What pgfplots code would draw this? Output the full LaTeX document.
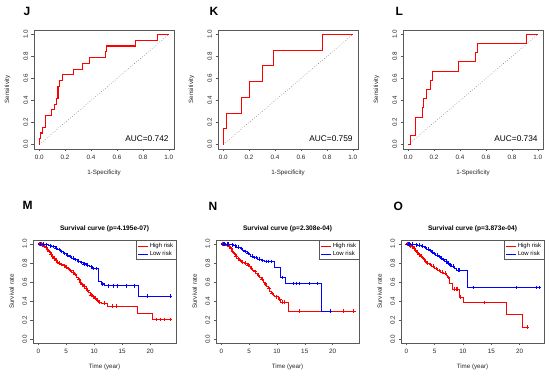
\documentclass[border=0pt]{standalone}
\usepackage{pgfplots}
\pgfplotsset{compat=1.18}
\usepackage{fontspec}
\setmainfont{Liberation Sans}

\pgfplotsset{
  rbox/.style={
    scale only axis, anchor=south west,
    axis line style={black!65, line width=0.5pt},
    tick align=outside, tick pos=left,
    major tick length=2.5pt,
    every tick/.style={black!65, line width=0.5pt},
    tick label style={font=\fontsize{6.3}{6.3}\selectfont, text=black!85},
    yticklabel style={rotate=90, anchor=south},
    label style={font=\fontsize{6.2}{6.2}\selectfont, text=black!85},
  },
  roc/.style={rbox, width=140pt, height=119pt,
    xmin=-0.04, xmax=1.04, ymin=-0.04, ymax=1.04,
    xtick={0,0.2,0.4,0.6,0.8,1}, ytick={0,0.2,0.4,0.6,0.8,1},
    xticklabels={0.0,0.2,0.4,0.6,0.8,1.0},
    yticklabels={0.0,0.2,0.4,0.6,0.8,1.0},
    xlabel={1-Specificity}, ylabel={Sensitivity},
    xlabel style={at={(axis description cs:0.5,-0.2)}, anchor=center},
    ylabel style={at={(axis description cs:-0.19,0.5)}, anchor=center},
  },
  km/.style={rbox, width=143pt, height=103pt,
    ymin=-0.04, ymax=1.04,
    xtick={0,5,10,15,20}, xticklabels={0,5,10,15,20},
    ytick={0,0.2,0.4,0.6,0.8,1},
    yticklabels={0.0,0.2,0.4,0.6,0.8,1.0},
    xlabel={Time (year)}, ylabel={Survival rate},
    xlabel style={at={(axis description cs:0.5,-0.235)}, anchor=center},
    ylabel style={at={(axis description cs:-0.15,0.5)}, anchor=center},
    title style={font=\bfseries\fontsize{6.6}{7}\selectfont, at={(0.5,1)}, anchor=south, yshift=-1.5pt},
    legend style={at={(1,1)}, anchor=north east, draw=black!65, line width=0.4pt,
      font=\fontsize{6}{6}\selectfont, inner sep=1.5pt, row sep=0pt,
      nodes={inner sep=1.2pt}},
    legend cell align=left,
    legend image code/.code={\draw[#1, line width=0.6pt] (0pt,0pt) -- (10pt,0pt);},
  },
  rocline/.style={red, line width=1.05pt, const plot},
  diag/.style={black!60, dotted, line width=0.55pt},
  hi/.style={red, line width=0.75pt, const plot},
  lo/.style={blue, line width=0.75pt, const plot},
  cens/.style={only marks, mark=+, mark size=1.8pt, line width=0.55pt, forget plot},
}

\begin{document}
\begin{tikzpicture}
\path[use as bounding box] (0,0) rectangle (550pt,375pt);

\tikzset{letter/.style={font=\bfseries\fontsize{12}{12}\selectfont, anchor=west}}
\node[letter] at (20pt,364pt) {J};
\node[letter] at (206pt,364pt) {K};
\node[letter] at (392pt,364pt) {L};
\node[letter] at (19pt,170pt) {M};
\node[letter] at (205pt,169pt) {N};
\node[letter] at (390pt,169pt) {O};

% ---- ROC J
\begin{axis}[roc, at={(34pt,226pt)}]
\addplot[diag] coordinates {(0,0) (1,1)};
\addplot[rocline] coordinates {
(0,0) (0,0.053) (0.013,0.105) (0.025,0.158) (0.051,0.263) (0.094,0.316)
(0.120,0.368) (0.132,0.421) (0.145,0.526) (0.158,0.579) (0.178,0.632)
(0.262,0.684) (0.331,0.737) (0.389,0.789) (0.511,0.842) (0.522,0.895)
(0.746,0.947) (0.916,1.0) (1,1)};
\node[anchor=east, font=\fontsize{8.3}{9}\selectfont] at (axis cs:1.025,0.055) {AUC=0.742};
\end{axis}

% ---- ROC K
\begin{axis}[roc, at={(218pt,226pt)}]
\addplot[diag] coordinates {(0,0) (1,1)};
\addplot[rocline] coordinates {
(0,0) (0,0.143) (0.025,0.286) (0.140,0.429) (0.204,0.571) (0.305,0.714)
(0.389,0.857) (0.763,1.0) (1,1)};
\node[anchor=east, font=\fontsize{8.3}{9}\selectfont] at (axis cs:1.025,0.055) {AUC=0.759};
\end{axis}

% ---- ROC L
\begin{axis}[roc, at={(403pt,226pt)}]
\addplot[diag] coordinates {(0,0) (1,1)};
\addplot[rocline] coordinates {
(0,0) (0.020,0.083) (0.055,0.25) (0.108,0.333) (0.121,0.417) (0.138,0.5)
(0.171,0.583) (0.188,0.667) (0.389,0.75) (0.520,0.833) (0.533,0.917)
(0.912,1.0) (1,1)};
\node[anchor=east, font=\fontsize{8.3}{9}\selectfont] at (axis cs:1.025,0.055) {AUC=0.734};
\end{axis}

% ---- Survival M
\begin{axis}[km, at={(33pt,32pt)}, xmin=-0.95, xmax=24.65,
  title={Survival curve (p=4.195e-07)}]
\addplot[hi] coordinates {
(0,1) (0.3,0.995) (0.6,0.985) (0.9,0.975) (1.2,0.96) (1.5,0.94) (1.8,0.92)
(2.1,0.895) (2.4,0.87) (2.7,0.85) (3.0,0.83) (3.3,0.81) (3.6,0.80) (4.0,0.785)
(4.4,0.77) (4.8,0.755) (5.2,0.74) (5.6,0.72) (6.0,0.705) (6.4,0.68) (6.8,0.65)
(7.1,0.625) (7.4,0.60) (7.7,0.575) (8.0,0.555) (8.3,0.535) (8.7,0.515) (9.0,0.49)
(9.3,0.465) (9.6,0.445) (10.0,0.43) (10.4,0.41) (10.8,0.39) (11.3,0.38)
(12.3,0.345) (17.7,0.27) (20.5,0.205) (23.7,0.205)};
\addlegendentry{High risk}
\addplot[lo] coordinates {
(0,1) (0.6,0.995) (1.2,0.99) (1.8,0.98) (2.4,0.97) (3.0,0.955) (3.5,0.94)
(4.0,0.92) (4.5,0.90) (5.0,0.88) (5.5,0.865) (6.0,0.85) (6.5,0.835) (7.0,0.82)
(7.5,0.805) (8.0,0.79) (8.6,0.775) (9.2,0.76) (9.6,0.74) (10.8,0.61) (11.3,0.58)
(11.8,0.56) (18.0,0.45) (23.7,0.45)};
\addlegendentry{Low risk}
\addplot[cens, red] coordinates {
(0.2,1) (0.45,0.995) (0.75,0.985) (1.0,0.975) (1.35,0.96) (1.65,0.94) (1.95,0.92)
(2.25,0.895) (2.55,0.87) (2.85,0.85) (3.15,0.83) (3.45,0.81) (3.8,0.80) (4.2,0.785)
(4.6,0.77) (5.0,0.755) (5.4,0.74) (5.8,0.72) (6.2,0.705) (6.6,0.68) (7.25,0.625)
(7.55,0.60) (7.85,0.575) (8.15,0.555) (8.5,0.535) (8.85,0.515) (9.45,0.465)
(9.8,0.445) (10.2,0.43) (10.6,0.41) (11.0,0.39) (11.8,0.38) (13.3,0.345)
(13.9,0.345) (21.2,0.205) (21.8,0.205) (22.6,0.205) (23.7,0.205)};
\addplot[cens, blue] coordinates {
(0.3,1) (0.9,0.995) (1.5,0.99) (2.1,0.98) (2.7,0.97) (3.2,0.955) (3.7,0.94)
(4.2,0.92) (4.7,0.90) (5.2,0.88) (5.7,0.865) (6.2,0.85) (6.7,0.835) (7.2,0.82)
(7.7,0.805) (8.2,0.79) (8.8,0.775) (9.4,0.76) (9.9,0.74) (10.3,0.74) (11.5,0.58)
(12.5,0.56) (13.5,0.56) (14.1,0.56) (15.7,0.56) (17.2,0.56) (19.5,0.45) (23.7,0.45)};
\end{axis}

% ---- Survival N
\begin{axis}[km, at={(216pt,32pt)}, xmin=-0.95, xmax=24.75,
  title={Survival curve (p=2.308e-04)}]
\addplot[hi] coordinates {
(0,1) (0.4,0.995) (0.8,0.985) (1.2,0.97) (1.6,0.95) (1.9,0.925) (2.2,0.90)
(2.5,0.87) (2.8,0.845) (3.2,0.825) (3.6,0.81) (4.1,0.80) (4.7,0.78) (5.0,0.76)
(5.3,0.745) (5.6,0.725) (5.9,0.71) (6.2,0.69) (6.5,0.67) (6.9,0.65) (7.2,0.63)
(7.5,0.60) (7.8,0.58) (8.1,0.555) (8.4,0.53) (8.7,0.505) (9.0,0.48) (9.3,0.46)
(9.6,0.445) (10.3,0.42) (10.7,0.39) (11.6,0.385) (12.1,0.295) (23.8,0.295)};
\addlegendentry{High risk}
\addplot[lo] coordinates {
(0,1) (0.8,0.995) (1.6,0.99) (2.2,0.98) (2.8,0.965) (3.4,0.95) (3.8,0.935)
(4.1,0.92) (4.6,0.90) (5.0,0.885) (5.3,0.87) (5.8,0.855) (6.5,0.84) (7.2,0.825)
(7.7,0.815) (9.5,0.755) (10.7,0.645) (11.5,0.585) (18.0,0.295) (19.6,0.295)};
\addlegendentry{Low risk}
\addplot[cens, red] coordinates {
(0.2,1) (0.6,0.995) (1.0,0.985) (1.4,0.97) (1.75,0.95) (2.05,0.925) (2.35,0.90)
(2.65,0.87) (3.0,0.845) (3.4,0.825) (3.85,0.81) (4.4,0.80) (4.85,0.78) (5.45,0.745)
(6.05,0.71) (6.7,0.67) (7.35,0.63) (7.95,0.58) (8.55,0.53) (9.15,0.48) (9.9,0.445)
(10.5,0.42) (11.0,0.39) (11.4,0.39) (14.1,0.295) (21.9,0.295) (23.8,0.295)};
\addplot[cens, blue] coordinates {
(0.3,1) (0.6,1) (1.0,0.995) (1.3,0.995) (1.9,0.99) (2.5,0.98) (3.1,0.965) (3.6,0.95)
(4.3,0.92) (4.8,0.90) (5.5,0.87) (6.0,0.855) (6.3,0.855) (6.8,0.84) (7.4,0.825)
(8.0,0.815) (8.5,0.815) (9.0,0.815) (11.0,0.645) (12.9,0.585) (13.4,0.585)
(14.1,0.585) (15.9,0.585) (17.3,0.585) (19.6,0.295)};
\end{axis}

% ---- Survival O
\begin{axis}[km, at={(401pt,32pt)}, xmin=-0.94, xmax=24.3,
  title={Survival curve (p=3.873e-04)}]
\addplot[hi] coordinates {
(0,1) (0.3,0.99) (0.6,0.98) (0.9,0.97) (1.2,0.955) (1.5,0.935) (1.8,0.915)
(2.1,0.89) (2.4,0.87) (2.8,0.845) (3.2,0.82) (3.5,0.80) (4.0,0.785) (4.5,0.765)
(5.0,0.74) (5.5,0.72) (6.0,0.705) (6.6,0.695) (7.0,0.67) (7.3,0.645) (7.6,0.59)
(8.1,0.525) (9.3,0.44) (10.0,0.385) (17.7,0.26) (20.5,0.125) (21.4,0.125)};
\addlegendentry{High risk}
\addplot[lo] coordinates {
(0,1) (0.7,0.995) (1.4,0.99) (2.0,0.985) (2.6,0.975) (3.1,0.96) (3.6,0.945)
(4.0,0.93) (4.4,0.915) (4.8,0.90) (5.2,0.88) (5.6,0.865) (6.0,0.85) (6.4,0.835)
(6.8,0.82) (7.2,0.80) (7.6,0.78) (8.0,0.765) (8.5,0.745) (8.9,0.725) (10.7,0.54)
(23.4,0.54)};
\addlegendentry{Low risk}
\addplot[cens, red] coordinates {
(0.15,1) (0.45,0.99) (0.75,0.98) (1.05,0.97) (1.35,0.955) (1.65,0.935) (1.95,0.915)
(2.25,0.89) (2.6,0.87) (3.0,0.845) (3.35,0.82) (3.75,0.80) (4.25,0.785) (4.75,0.765)
(5.25,0.74) (5.75,0.72) (6.3,0.705) (6.8,0.695) (7.45,0.645) (8.4,0.525) (8.8,0.525)
(9.0,0.525) (9.6,0.44) (13.8,0.385) (21.4,0.125)};
\addplot[cens, blue] coordinates {
(0.3,1) (0.5,1) (1.0,0.995) (1.7,0.99) (2.3,0.985) (2.9,0.975) (3.4,0.96) (3.8,0.945)
(4.2,0.93) (4.6,0.915) (5.0,0.90) (5.4,0.88) (5.8,0.865) (6.2,0.85) (6.6,0.835)
(7.0,0.82) (7.4,0.80) (7.8,0.78) (8.3,0.765) (9.1,0.725) (9.4,0.725) (11.9,0.54)
(19.4,0.54) (23.0,0.54) (23.4,0.54)};
\end{axis}
\end{tikzpicture}
\end{document}
